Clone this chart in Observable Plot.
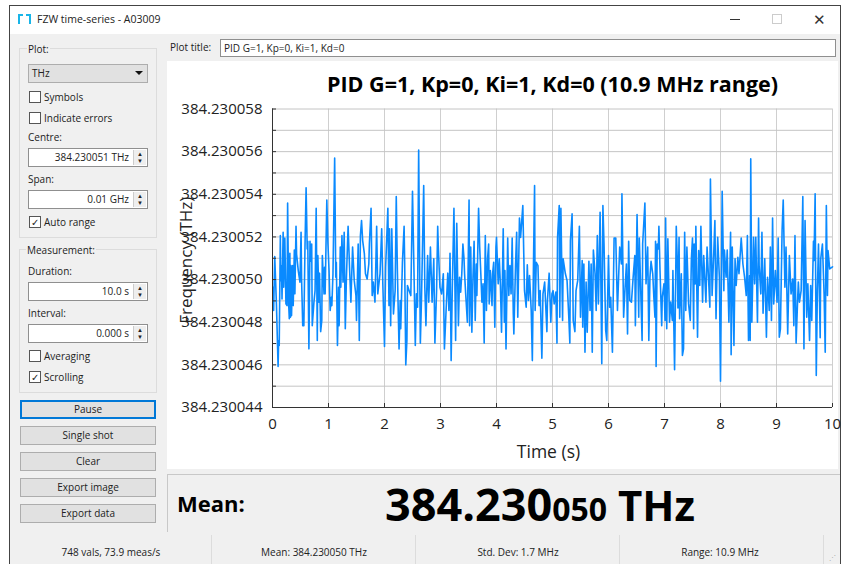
<!DOCTYPE html>
<html><head><meta charset="utf-8">
<script src="https://cdn.jsdelivr.net/npm/d3@7"></script>
<script src="https://cdn.jsdelivr.net/npm/@observablehq/plot@0.6"></script>
<style>
html,body{margin:0;padding:0;background:#fff;}
#page{position:relative;width:843px;height:564px;overflow:hidden;font-family:"Open Sans","Noto Sans",sans-serif;font-size:10px;color:#222;}
#page div{position:absolute;box-sizing:border-box;white-space:nowrap;}
.win{left:9px;top:5px;width:832px;height:559px;background:#f0f0f0;border:1px solid #444;border-bottom:0;}
.titlebar{left:10px;top:6px;width:830px;height:28px;background:#fff;}
.group{border:1px solid #dcdcdc;left:19px;width:138px;}
.lab{line-height:12px;height:12px;}
.combo{left:28px;top:64px;width:120px;height:19px;background:#e1e1e1;border:1px solid #adadad;padding-left:3px;line-height:17px;}
.chk{left:29px;width:12px;height:12px;border:1px solid #555;background:#fff;font-size:10px;line-height:10px;text-align:center;}
.spin{left:28px;width:120px;background:#fff;border:1px solid #8f8f8f;border-width:1px 1px 1px 1px;text-align:right;padding-right:18px;}
.arrows{right:1px;top:1px;bottom:1px;width:13px;background:#eee;border-left:1px solid #ccc;font-size:6px;line-height:7px;text-align:center;padding-top:1px;white-space:normal;}
.btn{left:20px;width:136px;height:19px;background:#e1e1e1;border:1px solid #adadad;text-align:center;line-height:17px;}
.stat{top:546px;height:12px;line-height:12px;text-align:center;width:200px;}
.sep{top:535px;width:1px;height:29px;background:#dcdcdc;}
</style></head><body>
<div id="page">
<div class="win"></div>
<div class="titlebar"></div>
<div class="lab" style="left:37px;top:13px;font-size:10.5px;line-height:13px;">FZW time-series - A03009</div>
<div style="left:18px;top:14px;width:13px;height:10px;border:2px solid #19b5e8;border-bottom:0;"></div>
<div style="left:23px;top:14px;width:3px;height:3px;background:#fff;"></div>
<div style="left:730px;top:19px;width:10px;height:1px;background:#333;"></div>
<div style="left:772px;top:14px;width:10px;height:10px;border:1px solid #ccc;"></div>
<div style="left:813px;top:11px;font-size:15px;line-height:16px;color:#333;">✕</div>

<div class="group" style="top:48px;height:190px;"></div>
<div class="lab" style="left:27px;top:43px;background:#f0f0f0;padding:0 1px;">Plot:</div>
<div class="combo">THz</div>
<div style="left:135px;top:71px;width:0;height:0;border-left:4px solid transparent;border-right:4px solid transparent;border-top:4px solid #111;"></div>
<div class="chk" style="top:91px;"></div><div class="lab" style="left:44px;top:91px;">Symbols</div>
<div class="chk" style="top:112px;"></div><div class="lab" style="left:44px;top:112px;">Indicate errors</div>
<div class="lab" style="left:28px;top:131px;">Centre:</div>
<div class="spin" style="top:148px;height:19px;line-height:17px;">384.230051 THz<div class="arrows">▲<br>▼</div></div>
<div class="lab" style="left:28px;top:173px;">Span:</div>
<div class="spin" style="top:190px;height:19px;line-height:17px;">0.01 GHz<div class="arrows">▲<br>▼</div></div>
<div class="chk" style="top:216px;">✓</div><div class="lab" style="left:44px;top:216px;">Auto range</div>

<div class="group" style="top:249px;height:144px;"></div>
<div class="lab" style="left:26px;top:244px;background:#f0f0f0;padding:0 1px;">Measurement:</div>
<div class="lab" style="left:28px;top:265px;">Duration:</div>
<div class="spin" style="top:282px;height:19px;line-height:17px;">10.0 s<div class="arrows">▲<br>▼</div></div>
<div class="lab" style="left:28px;top:307px;">Interval:</div>
<div class="spin" style="top:324px;height:19px;line-height:17px;">0.000 s<div class="arrows">▲<br>▼</div></div>
<div class="chk" style="top:350px;"></div><div class="lab" style="left:44px;top:350px;">Averaging</div>
<div class="chk" style="top:371px;">✓</div><div class="lab" style="left:44px;top:371px;">Scrolling</div>

<div class="btn" style="top:400px;border:2px solid #0078d7;line-height:15px;">Pause</div>
<div class="btn" style="top:426px;">Single shot</div>
<div class="btn" style="top:452px;">Clear</div>
<div class="btn" style="top:478px;">Export image</div>
<div class="btn" style="top:504px;">Export data</div>

<div class="lab" style="left:170px;top:41px;">Plot title:</div>
<div style="left:220px;top:39px;width:616px;height:18px;background:#fff;border:1px solid #8f8f8f;padding-left:3px;line-height:16px;">PID G=1, Kp=0, Ki=1, Kd=0</div>

<div id="chart" style="left:167px;top:61px;width:671px;height:408px;background:#fff;overflow:visible;"></div>

<div style="left:167px;top:474px;width:673px;height:58px;border:1px solid #c8c8c8;border-bottom:0;border-right:0;"></div>
<div style="left:177px;top:488px;font-size:22px;line-height:30px;font-weight:700;color:#000;">Mean:</div>
<div style="left:385px;top:477px;font-size:45px;line-height:54px;font-weight:700;color:#000;">384.230<span style="font-size:32px;">050</span><span style="font-size:42px;"> THz</span></div>

<div class="stat" style="left:11px;">748 vals, 73.9 meas/s</div>
<div class="sep" style="left:211px;"></div>
<div class="stat" style="left:214px;">Mean: 384.230050 THz</div>
<div class="sep" style="left:415px;"></div>
<div class="stat" style="left:418px;">Std. Dev: 1.7 MHz</div>
<div class="sep" style="left:619px;"></div>
<div class="stat" style="left:620px;">Range: 10.9 MHz</div>
<div class="sep" style="left:823px;"></div>
<div style="left:829px;top:554px;font-size:7px;line-height:7px;color:#aaa;">⋰</div>
</div>
<script>
const plotTitle = "PID G=1, Kp=0, Ki=1, Kd=0 (10.9 MHz range)";
const xLabel = "Time (s)";
const yLabel = "Frequency (THz)";
const xTicks = [0,1,2,3,4,5,6,7,8,9,10];
const yGrid = [44,45,46,47,48,49,50,51,52,53,54,55,56,57,58];
const yLabelled = [44,46,48,50,52,54,56,58];
const labelPrefix = "384.2300";
// time in seconds
const timeA = [0.01,0.02,0.04,0.07,0.10,0.11,0.12,0.14,0.15,0.16,0.17,0.19,0.20,0.22,0.24,0.26,0.27,0.29,0.30,0.31,0.32,0.33,0.34,0.36,0.37,0.39,0.40,0.42,0.43,0.46,0.49,0.51,0.52,0.54,0.56,0.58,0.60,0.62,0.63,0.65,0.67,0.68,0.70,0.71,0.74,0.76,0.78,0.80,0.81,0.83,0.84,0.86,0.88,0.89,0.92,0.93,0.94,0.97,0.99,1.01,1.03,1.05,1.06,1.08,1.11,1.13,1.14,1.16,1.18,1.19,1.21,1.22,1.24,1.26,1.28,1.30,1.32,1.35,1.38,1.40,1.43,1.46,1.49,1.50,1.53,1.55,1.57,1.59,1.61,1.64,1.66,1.69,1.72,1.73,1.76,1.78,1.80,1.83,1.86,1.88,1.92,1.95,1.97,2.00,2.02,2.06,2.08,2.09,2.11,2.13,2.16,2.19,2.21,2.23,2.26,2.28,2.29,2.32,2.35,2.36,2.38,2.40,2.41,2.44,2.47,2.50,2.53,2.55,2.57,2.59,2.61,2.64,2.66,2.70,2.72,2.74,2.77,2.79,2.82,2.85,2.88,2.90,2.93,2.95,2.96,2.99,3.02,3.05,3.07,3.11,3.13,3.15,3.17,3.19,3.21];
// frequency above 384.230000 THz, in MHz
const freqA = [49.64,48.55,51.08,48.86,45.92,47.14,46.91,52.06,49.95,50.66,49.09,52.22,49.64,51.95,48.86,48.78,53.59,48.78,48.16,51.23,48.23,50.66,48.31,50.66,48.78,51.39,49.33,52.50,51.20,50.42,49.88,52.22,49.95,47.84,47.84,51.52,54.30,51.44,51.80,46.75,51.80,50.86,51.67,47.84,48.94,49.48,53.34,47.14,51.13,48.94,50.30,47.56,48.08,51.13,49.33,50.58,49.33,53.73,51.67,50.42,48.55,49.17,48.78,50.27,55.70,50.11,50.81,46.91,49.64,47.84,51.52,49.64,52.06,49.88,52.22,47.69,50.11,52.50,50.27,48.94,51.52,49.95,49.25,48.08,51.67,47.14,52.06,52.77,51.83,51.23,50.27,50.03,50.73,51.67,53.34,49.25,49.88,48.94,52.50,49.33,50.27,52.38,49.80,46.86,50.58,53.34,48.78,52.38,47.84,52.38,48.39,49.48,53.89,50.42,46.75,49.02,47.69,50.81,52.50,50.81,46.0,47.14,49.72,49.48,49.25,54.14,49.88,46.91,49.33,48.70,56.08,47.02,49.02,54.41,49.64,47.84,51.13,48.94,51.52,48.94,50.97,47.02,49.48,52.50,51.59,49.64,49.33,50.27,46.75,49.17,50.30,48.55,51.23,46.20,49.48];
const timeB = [3.24,3.27,3.29,3.32,3.34,3.36,3.38,3.40,3.42,3.43,3.45,3.48,3.51,3.52,3.54,3.56,3.58,3.60,3.62,3.64,3.65,3.68,3.70,3.72,3.74,3.76,3.78,3.80,3.82,3.84,3.86,3.87,3.89,3.92,3.93,3.95,3.97,3.99,4.00,4.03,4.05,4.07,4.09,4.12,4.14,4.15,4.17,4.20,4.22,4.24,4.26,4.28,4.30,4.31,4.34,4.36,4.38,4.41,4.43,4.47,4.50,4.53,4.55,4.57,4.59,4.62,4.64,4.66,4.68,4.69,4.71,4.74,4.76,4.78,4.81,4.83,4.86,4.90,4.91,4.94,4.97,4.99,5.01,5.03,5.06,5.08,5.09,5.12,5.13,5.15,5.18,5.19,5.23,5.26,5.29,5.31,5.32,5.35,5.37,5.40,5.42,5.45,5.48,5.50,5.53,5.54,5.56,5.58,5.60,5.62,5.65,5.67,5.69,5.71,5.73,5.76,5.78,5.80,5.82,5.85,5.88,5.90,5.92,5.95,5.97,6.00,6.02,6.04,6.07,6.10,6.13,6.16,6.17,6.20,6.23,6.24,6.27,6.29,6.32,6.34,6.36,6.38,6.41,6.44,6.47,6.48,6.51,6.54,6.55,6.60,6.61];
const freqB = [53.34,47.14,52.64,47.84,50.11,49.41,50.27,51.67,50.97,50.27,49.33,48.0,53.73,47.84,51.52,47.53,50.11,51.80,48.08,50.73,49.25,53.34,51.52,50.27,48.94,49.80,47.02,52.06,48.55,50.97,51.67,48.86,50.42,48.78,50.27,50.81,47.77,51.52,51.98,49.80,50.97,49.72,47.53,52.38,48.0,50.42,46.75,51.95,49.25,50.66,49.33,51.95,48.39,47.45,50.66,52.22,48.23,52.89,51.98,53.47,49.48,48.70,50.69,49.02,50.19,48.55,46.20,50.66,54.41,48.55,50.81,50.66,48.78,49.48,46.31,49.33,49.88,47.56,49.02,50.30,48.0,49.33,49.48,48.86,49.41,47.02,51.95,53.47,48.23,53.34,48.08,50.97,50.27,49.95,48.31,47.02,51.83,53.08,48.08,47.56,49.48,49.95,52.50,48.23,50.89,47.77,50.73,46.59,49.88,47.53,50.86,48.55,50.73,46.59,51.39,50.27,48.55,52.06,48.86,53.16,46.05,53.47,51.67,47.61,47.14,51.13,48.70,49.17,46.59,51.95,51.95,48.55,49.33,51.52,50.73,54.02,48.23,49.33,50.73,47.45,51.80,49.02,48.94,50.11,51.13,47.84,53.05,48.23,51.95,47.14,51.67];
const timeC = [6.65,6.67,6.70,6.72,6.74,6.76,6.79,6.81,6.83,6.84,6.85,6.87,6.89,6.90,6.92,6.95,6.96,6.99,7.01,7.02,7.04,7.06,7.07,7.09,7.11,7.14,7.15,7.18,7.20,7.21,7.23,7.24,7.26,7.27,7.30,7.32,7.34,7.36,7.38,7.40,7.43,7.46,7.48,7.50,7.52,7.53,7.55,7.56,7.59,7.61,7.63,7.65,7.68,7.70,7.74,7.76,7.78,7.81,7.82,7.85,7.88,7.90,7.92,7.95,7.98,8.00,8.03,8.06,8.07,8.10,8.12,8.15,8.18,8.19,8.21,8.24,8.26,8.28,8.31,8.33,8.37,8.40,8.43,8.46,8.48,8.50,8.52,8.53,8.54,8.56,8.59,8.61,8.63,8.66,8.68,8.69,8.72,8.74,8.76,8.79,8.82,8.84,8.87,8.89,8.91,8.93,8.95,8.98,9.01,9.03,9.05,9.07,9.10,9.12,9.15,9.17,9.20,9.23,9.26,9.29,9.31,9.33,9.35,9.38,9.39,9.41,9.44,9.47,9.49,9.51,9.54,9.56,9.59,9.61,9.63,9.66,9.67,9.69,9.71,9.73,9.75,9.78,9.79,9.82,9.85,9.87,9.89,9.91,9.92,9.95,10.0];
const freqC = [53.59,49.80,51.52,47.14,50.11,50.86,50.27,49.17,48.23,51.80,45.92,51.67,51.44,52.50,50.42,47.84,49.17,49.80,48.08,52.89,47.69,51.91,50.58,48.0,48.94,48.08,50.42,45.77,50.11,52.50,50.73,48.67,51.98,48.16,50.27,46.44,46.75,52.22,48.55,51.52,48.86,48.08,50.97,51.95,47.69,51.67,49.80,52.50,47.30,51.36,49.72,52.50,48.94,51.13,48.94,51.52,50.42,48.70,54.72,49.25,51.28,52.77,48.16,51.98,50.11,45.23,54.14,49.48,51.39,50.11,51.39,48.0,52.22,46.48,51.52,46.91,50.97,49.72,51.05,50.27,51.95,50.73,50.11,49.25,52.06,47.14,50.19,47.14,55.66,48.0,51.98,49.80,51.98,48.0,52.89,50.66,49.33,52.22,48.42,50.97,47.30,50.11,48.55,51.52,48.08,52.89,48.86,50.42,48.94,51.95,47.30,47.69,52.33,53.73,49.64,51.52,47.45,51.13,49.33,50.03,47.84,52.06,47.02,49.25,49.88,48.94,49.48,53.89,46.75,52.77,48.23,49.80,47.14,49.72,48.08,51.80,50.89,54.02,45.50,49.48,51.67,47.27,50.97,51.67,49.33,46.59,53.47,49.25,51.36,50.50,50.60];
const time = [...timeA,...timeB,...timeC];
const freq = [...freqA,...freqB,...freqC];
const series = time.map((t,i)=>({t, f:freq[i]}));

const chart = Plot.plot({
  width: 671, height: 408,
  marginLeft: 105, marginTop: 47.5, marginRight: 6, marginBottom: 62,
  style: {fontFamily:'"Open Sans","Noto Sans",sans-serif', fontSize:"15px", color:"#222", background:"#fff", overflow:"visible"},
  x: {domain:[0,10], label:null},
  y: {domain:[44,58], label:null},
  marks: [
    Plot.ruleX(xTicks, {stroke:"#cfcfcf", strokeWidth:1}),
    Plot.ruleY(yGrid, {stroke:"#c4c4c4", strokeWidth:1}),
    Plot.line(series, {x:"t", y:"f", stroke:"#0a8aff", strokeWidth:1.6, curve:"linear"}),
    Plot.ruleX([0], {stroke:"#333", strokeWidth:1}),
    Plot.ruleY([44], {stroke:"#333", strokeWidth:1}),
    Plot.axisY({ticks:yGrid, tickSize:-4, tickPadding:14, tickFormat:d=>yLabelled.includes(d)?labelPrefix+d:"", stroke:"#333", label:null}),
    Plot.axisX({ticks:xTicks, tickSize:-4, tickPadding:15, stroke:"#333", label:null}),
    Plot.text([plotTitle], {frameAnchor:"top", dy:-32, fontSize:21.5, fontWeight:700, fill:"#000"}),
    Plot.text([xLabel], {frameAnchor:"bottom", dy:50, dx:-4, fontSize:17.5, fill:"#222"}),
    Plot.text([yLabel], {frameAnchor:"left", textAnchor:"middle", dx:-86, dy:2, rotate:-90, fontSize:17, fill:"#222"})
  ]
});
document.getElementById("chart").appendChild(chart);
</script>
</body></html>
